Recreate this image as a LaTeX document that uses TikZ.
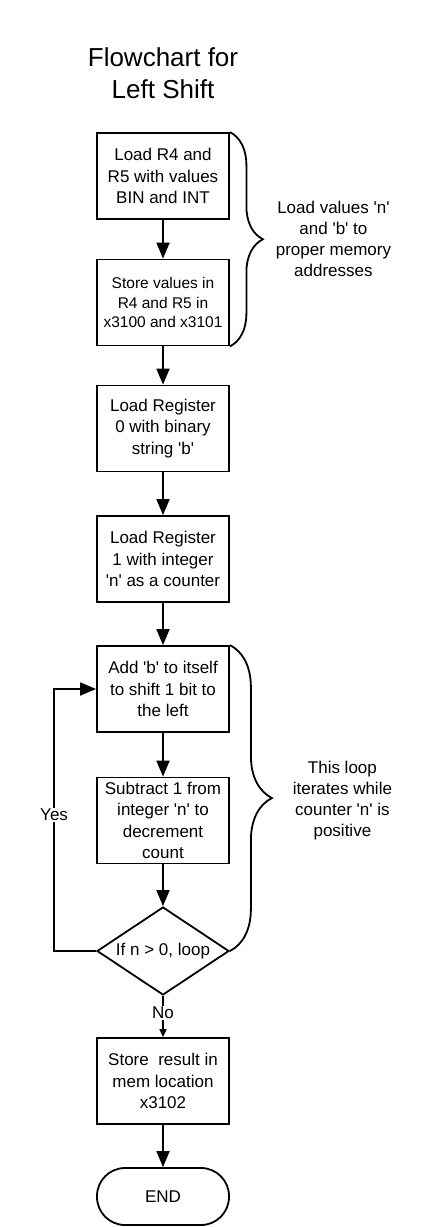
\documentclass[tikz,border=0pt]{standalone}
\usepackage{fontspec}
\setmainfont{Liberation Sans}[Ligatures=TeXOff]
\usepackage{tikz}
\usetikzlibrary{shapes.geometric}
\usetikzlibrary{arrows.meta}
\usetikzlibrary{decorations.pathreplacing}

\begin{document}
\begin{tikzpicture}[x=1pt,y=-1pt]
    \tikzstyle{process}=[rectangle, draw, line width=1.8pt, minimum width=132pt, minimum height=86pt, align=center, inner sep=1pt, font=\fontsize{17}{21.5}\selectfont]
    \tikzstyle{decision}=[diamond, draw, line width=1.8pt, aspect=1.5, inner sep=0pt, minimum width=132pt, minimum height=88pt, font=\fontsize{17}{21.5}\selectfont]
    \tikzstyle{terminal}=[rectangle, draw, rounded corners=28pt, line width=1.8pt, minimum width=132pt, minimum height=57pt, font=\fontsize{17}{21.5}\selectfont]
    \tikzstyle{title}=[align=center, font=\fontsize{26}{32}\selectfont]
    \tikzstyle{note}=[align=center, inner sep=0pt, font=\fontsize{17}{21}\selectfont]
    \tikzstyle{flow}=[-{Triangle[length=16pt,width=13pt]}, line width=1.8pt]
    \tikzstyle{bracket}=[decorate, line width=1.8pt]
    \useasboundingbox (0,0) rectangle (442,1227);
    % title
    \node[title] (title) at (163,73) {Flowchart for\\Left Shift};
    % main column
    \node[process] (load) at (163,176) {Load R4 and\\R5 with values\\BIN and INT};
    \node[process, font=\fontsize{15.5}{19.5}\selectfont] (store) at (163,302.5) {Store values in\\R4 and R5 in\\x3100 and x3101};
    \node[process] (regzero) at (163,428.5) {Load Register\\0 with binary\\string 'b'};
    \node[process] (regone) at (163,559) {Load Register\\1 with integer\\'n' as a counter};
    \node[process] (shift) at (163,689) {Add 'b' to itself\\to shift 1 bit to\\the left};
    \node[process] (decr) at (163,820.5) {Subtract 1 from\\integer 'n' to\\decrement\\count};
    \node[decision] (check) at (163,951) {If n > 0, loop};
    \node[process] (result) at (163,1081) {Store\ \ result in\\mem location\\x3102};
    \node[terminal] (end) at (163,1196.5) {END};
    % connectors
    \foreach \a/\b in {load/store, store/regzero, regzero/regone, regone/shift, shift/decr, decr/check, result/end}
        \draw[flow] (\a) -- (\b);
    \draw[line width=1.8pt, -{Triangle[length=8pt,width=7pt]}] (check) -- node[fill=white, inner sep=1pt, pos=0.42, font=\fontsize{17}{21}\selectfont] {No} (result);
    \draw[flow] (check.west) -- ++(-42,0) |- node[pos=0.26, fill=white, inner sep=1pt, font=\fontsize{17}{21}\selectfont] {Yes} (shift.west);
    % braces
    \draw[bracket, decoration={brace, amplitude=33pt}] (load.north east) -- node[note, anchor=west, xshift=45pt] {Load values 'n'\\and 'b' to\\proper memory\\addresses} (store.south east);
    \draw[bracket, decoration={brace, amplitude=42pt}] (shift.north east) -- node[note, anchor=west, xshift=62pt, yshift=-3pt] {This loop\\iterates while\\counter 'n' is\\positive} (check.east);
\end{tikzpicture}
\end{document}
